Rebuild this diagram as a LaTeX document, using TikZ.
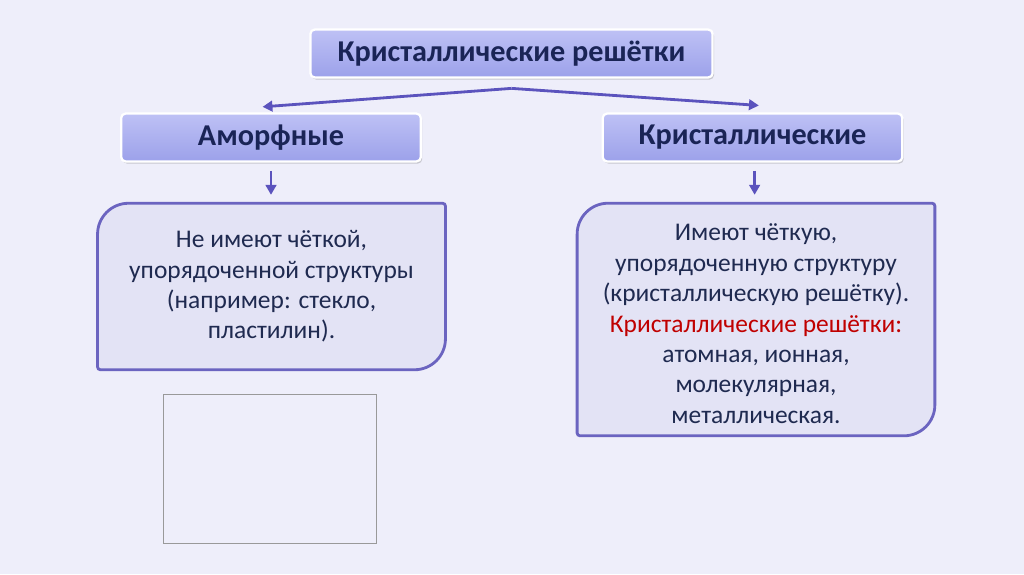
\documentclass[tikz,border=0pt]{standalone}
\usepackage{fontspec}
\setmainfont{Carlito}
\usepackage{xcolor}
\usepackage{tikz}
\usetikzlibrary{arrows.meta,positioning,shadows}
\definecolor{bgcol}{HTML}{EEEEFA}
\definecolor{hdtop}{HTML}{BEC1F5}
\definecolor{hdbot}{HTML}{9CA1EA}
\definecolor{navy}{HTML}{1A2456}
\definecolor{txtcol}{HTML}{1F2A50}
\definecolor{boxfill}{HTML}{E3E3F5}
\definecolor{boxline}{HTML}{6B64C0}
\definecolor{arrcol}{HTML}{5B53BD}
\definecolor{redtxt}{HTML}{C00000}

\begin{document}
\begin{tikzpicture}[x=0.025cm, y=0.025cm,
  hdr/.style={draw=white, line width=1.6pt, rounded corners=3pt,
              top color=hdtop, bottom color=hdbot, text=navy,
              font=\fontsize{21.5}{25}\selectfont\bfseries,
              drop shadow={opacity=0.35, shadow xshift=1pt, shadow yshift=-1.5pt},
              minimum height=34pt, inner sep=0pt},
  txt/.style={minimum width=#1, align=center, text=txtcol, inner sep=0pt,
              font=\fontsize{18.1}{21.6}\selectfont},
  frame/.style={draw=boxline, line width=2pt, fill=boxfill},
  arr/.style={-{Triangle[length=7pt, width=7.5pt]}, line width=2pt, draw=arrcol}]
% --- background ---
\fill[bgcol] (0,0) rectangle (1024,-574);
\useasboundingbox (0,0) rectangle (1024,-574);
% --- headers ---
\node[hdr, minimum width=286pt] (title) at (511.5,-53.5) {Кристаллические решётки};
\node[hdr, minimum width=213pt] (amorph) at (271,-137.5) {Аморфные};
\node[hdr, minimum width=213pt] (cryst) at (752.5,-137.5) {Кристаллические};
% --- text boxes ---
\node[minimum width=247pt, minimum height=118pt, inner sep=0pt] (amtxt) at (271.5,-286.5) {};
\node[minimum width=254pt, minimum height=165pt, inner sep=0pt] (crtxt) at (756,-319.5) {};
\draw[frame] (amtxt.west) [rounded corners=22pt] -- (amtxt.north west) [rounded corners=2pt]
  -- (amtxt.north east) [rounded corners=22pt] -- (amtxt.south east) [rounded corners=2pt]
  -- (amtxt.south west) [sharp corners] -- cycle;
\draw[frame] (crtxt.west) [rounded corners=22pt] -- (crtxt.north west) [rounded corners=2pt]
  -- (crtxt.north east) [rounded corners=22pt] -- (crtxt.south east) [rounded corners=2pt]
  -- (crtxt.south west) [sharp corners] -- cycle;
\node[txt=240pt] (amlines) at (amtxt) {Не имеют чёткой,\\ упорядоченной структуры\\
  (например: стекло,\\ пластилин).};
\node[txt=250pt] (crlines) at ([yshift=-3]crtxt.center) {Имеют чёткую,\\ упорядоченную структуру\\
  (кристаллическую решётку).\\ \textcolor{redtxt}{Кристаллические решётки:}\\
  атомная, ионная,\\ молекулярная,\\ металлическая.};
% --- empty picture frame ---
\node[draw=black!40, line width=0.8pt, minimum width=151pt, minimum height=106pt,
  inner sep=0pt] (pic) at (270,-469) {};
% --- connectors ---
\coordinate (split) at ([yshift=-7]title.south);
\draw[arr] (split) -- ([xshift=-6, yshift=4]amorph.north);
\draw[arr] (split) -- ([xshift=4.5, yshift=5]cryst.north);
\draw[arr] ([yshift=-6]amorph.south) -- ([yshift=6]amtxt.north -| amorph.south);
\draw[arr] ([xshift=1.5, yshift=-6]cryst.south) -- ([xshift=1.5, yshift=6]crtxt.north -| cryst.south);
\end{tikzpicture}
\end{document}
